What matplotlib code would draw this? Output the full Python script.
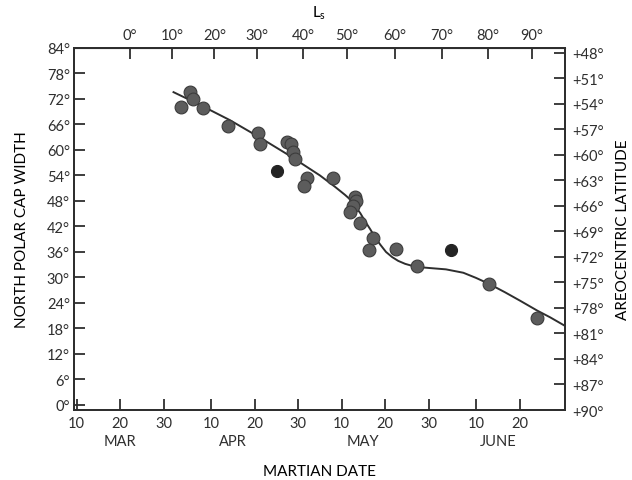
import numpy as np
import matplotlib
matplotlib.use("Agg")
import matplotlib.pyplot as plt

# Martian date as day number (MAR 10 = 10, APR 10 = 41, MAY 10 = 71, JUN 10 = 102)
obs_day = [34.0, 36.0, 36.9, 39.2, 44.8, 51.7, 52.1, 58.4, 59.3, 59.9, 60.3,
           63.0, 62.4, 69.1, 74.1, 74.3, 73.7, 73.0, 75.3, 78.3, 77.4, 83.5,
           88.3, 104.9, 116.0]
obs_width = [70.0, 73.7, 72.0, 69.9, 65.7, 64.0, 61.4, 61.8, 61.4, 59.5, 57.9,
             53.3, 51.5, 53.3, 48.9, 48.1, 46.8, 45.5, 42.8, 39.2, 36.5, 36.7,
             32.8, 28.5, 20.4]

# the two darker points
odd_day = [56.2, 96.2]
odd_width = [55.1, 36.5]

curve_day = [32.3, 38.4, 45.3, 52.2, 59.1, 66.0, 69.5, 71.8, 73.0, 74.1, 75.3,
             76.4, 77.6, 78.7, 79.9, 81.2, 82.6, 84.0, 85.6, 87.3, 89.1, 91.4,
             95.0, 99.0, 101.9, 104.9, 108.6, 112.1, 116.0, 119.0, 122.4]
curve_width = [73.6, 70.6, 67.0, 62.9, 58.6, 54.0, 51.3, 49.4, 48.3, 46.8, 45.1,
               43.2, 41.3, 39.4, 37.7, 36.0, 34.8, 33.9, 33.2, 32.7, 32.4, 32.2,
               31.9, 31.1, 29.9, 28.5, 26.5, 24.5, 22.2, 20.6, 18.6]

date_ticks = [10, 20, 30, 41, 51, 61, 71, 81, 91, 102, 112]
date_labels = ["10", "20", "30", "10", "20", "30", "10", "20", "30", "10", "20"]
months = ["MAR", "APR", "MAY", "JUNE"]
month_pos = [20, 46, 76, 107]

ls_values = [0, 10, 20, 30, 40, 50, 60, 70, 80, 90]
ls_day = [22.2, 31.9, 41.7, 51.5, 62.2, 72.2, 83.3, 94.1, 104.6, 114.8]

width_ticks = list(range(0, 85, 6))
lat_ticks = list(range(48, 91, 3))

INK = "#2e2e2e"
FS = 10.5
LFS = 11
plt.rcParams["font.family"] = ["Lato", "DejaVu Sans"]
plt.rcParams["text.color"] = INK

fig = plt.figure(figsize=(6.32, 4.81), dpi=100)
ax = fig.add_axes([0.1171, 0.1455, 0.7769, 0.7536])

ax.plot(curve_day, curve_width, color=INK, lw=1.4, zorder=2)
ax.scatter(obs_day, obs_width, s=85, c="#5c5c5c", edgecolors="#3c3c3c",
           linewidths=0.8, zorder=3)
ax.scatter(odd_day, odd_width, s=75, c="#242424", edgecolors="#242424",
           linewidths=0.8, zorder=3)

ax.set_xlim(9.4, 122.4)
ax.set_ylim(-1.2, 84.1)

for s in ax.spines.values():
    s.set_linewidth(1.3)
    s.set_color(INK)

ax.set_xticks(date_ticks, date_labels)
ax.set_yticks(width_ticks, [f"{v}°" for v in width_ticks])
ax.tick_params(direction="in", length=8, width=1.3, color=INK,
               labelsize=FS, labelcolor=INK)
ax.tick_params(axis="x", pad=4)
ax.tick_params(axis="y", pad=3)

for m, p in zip(months, month_pos):
    ax.text(p, -0.085, m, transform=ax.get_xaxis_transform(),
            ha="center", va="center", fontsize=FS)

ax.set_xlabel("MARTIAN DATE", fontsize=LFS, labelpad=25)
ax.set_ylabel("NORTH POLAR CAP WIDTH", fontsize=LFS, labelpad=13)

# top axis: areocentric longitude of the sun
top = ax.secondary_xaxis("top")
top.set_xticks(ls_day, [f"{v}°" for v in ls_values])
top.tick_params(direction="in", length=8, width=1.3, color=INK,
                labelsize=FS, labelcolor=INK, pad=4)
top.set_xlabel(r"$\mathregular{L_s}$", fontsize=LFS, labelpad=8)

# right axis: areocentric latitude
right = ax.twinx()
right.set_ylim(90, 47.4)
right.set_yticks(lat_ticks, [f"+{v}°" for v in lat_ticks])
right.tick_params(direction="in", length=8, width=1.3, color=INK,
                  labelsize=FS, labelcolor=INK, pad=5)
for s in right.spines.values():
    s.set_linewidth(1.3)
    s.set_color(INK)
right.set_ylabel("AREOCENTRIC LATITUDE", fontsize=LFS, labelpad=9)

fig.savefig("out.png", dpi=100)
